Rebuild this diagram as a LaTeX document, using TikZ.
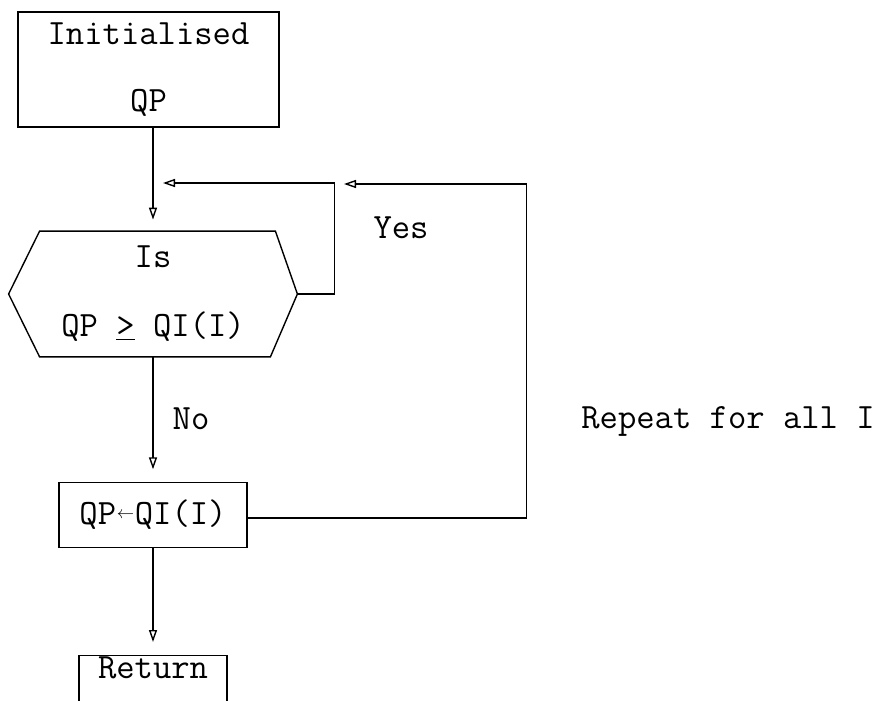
\documentclass[tikz,border=0pt]{standalone}
\usepackage{fontspec}
\usetikzlibrary{arrows.meta,calc}
\newcommand*{\chartfont}{\ttfamily\fontsize{17.8}{18}\selectfont}
\newcommand*{\getsarrow}{\makebox[0.525em]{\raisebox{0.18em}{\scalebox{0.5}{$\leftarrow$}}}}
\tikzset{
  box/.style = {draw, line width=0.7pt, font=\chartfont, align=center, inner sep=0pt},
  link/.style = {line width=0.7pt},
  flow/.style = {link, -{Triangle[open,length=6pt,width=4pt]}},
  tag/.style = {font=\chartfont, anchor=base}
}

\begin{document}
\begin{tikzpicture}[x=0.5pt, y=-0.5pt]
  \useasboundingbox (0,0) rectangle (887,700);
  \clip (0,0) rectangle (887,700);
  % steps
  \node[box, minimum width=130.5pt, minimum height=57.5pt] (init) at (148.5,69.5)
    {Initialised\\[15.5pt]QP};
  \node[font=\chartfont, align=center, inner sep=0pt,
    minimum width=144pt, minimum height=62.5pt] (test) at (153,294)
    {Is\\[16.5pt]QP \underline{>} QI(I)};
  \draw[link] (test.west) -- ($(test.north west)+(31,0)$)
    -- ($(test.north east)+(-22,0)$) -- (test.east)
    -- ($(test.south east)+(-27,0)$) -- ($(test.south west)+(31,0)$) -- cycle;
  \node[box, minimum width=94pt, minimum height=32.5pt] (swap) at (153,515)
    {QP\getsarrow QI(I)};
  \node[box, anchor=north, minimum width=74pt, text height=10pt, text depth=40pt,
    inner ysep=1.5pt] (ret) at (153,655) {Return};
  % loop ends
  \coordinate (back) at (163,183);
  \coordinate (again) at (344,184);
  % connectors
  \draw[flow, shorten >=5.75pt] (init.south -| test.north) -- (test.north);
  \draw[flow, shorten >=6.25pt] (test.south) -- (swap.north);
  \draw[flow, shorten >=6.5pt] (swap.south) -- (ret.north);
  \draw[flow] (test.east) -- ++(37,0) |- (back);
  \draw[flow] ($(swap.east)+(0,3)$) -- ++(279,0) |- (again);
  % labels
  \node[tag] (yes) at (401,238) {Yes};
  \node[tag] (no) at (191,429) {No};
  \node[tag] (rep) at (728,428) {Repeat for all I};
\end{tikzpicture}
\end{document}
